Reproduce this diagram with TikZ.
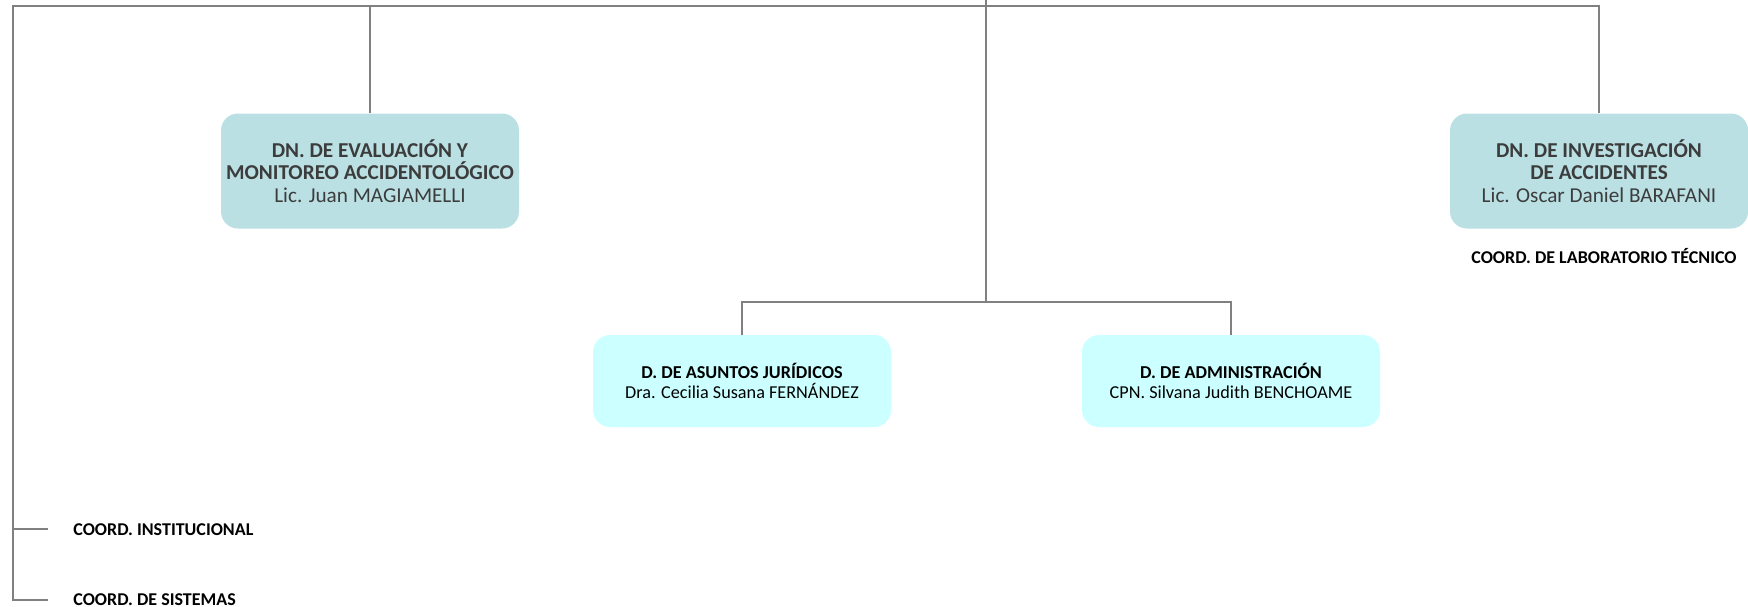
\documentclass[tikz,border=0pt]{standalone}
\usepackage{fontspec}
\setmainfont{Carlito}
\definecolor{linegray}{RGB}{128,128,128}
\definecolor{tealbox}{RGB}{186,224,228}
\definecolor{cyanbox}{RGB}{204,255,255}
\definecolor{dtext}{RGB}{60,60,60}
\begin{document}
\begin{tikzpicture}[x=0.5pt,y=-0.5pt,
 conn/.style={draw=linegray,line width=1pt},
 bigbox/.style={rectangle,rounded corners=8.5pt,fill=tealbox,minimum width=149pt,minimum height=57.5pt,inner sep=0pt,align=center,text=dtext,font=\fontsize{10.6}{11.1}\selectfont},
 smallbox/.style={rectangle,rounded corners=8.5pt,fill=cyanbox,minimum width=149pt,minimum height=46pt,inner sep=0pt,align=center,text=black,font=\fontsize{9.1}{9.8}\selectfont},
 coordlbl/.style={inner sep=0pt,text=black,font=\fontsize{9}{10}\selectfont\bfseries}]
\useasboundingbox (0,0) rectangle (1748,606);

% boxes
\node[bigbox] (evl) at (370,171) {\textbf{DN. DE EVALUACIÓN Y}\\\textbf{MONITOREO ACCIDENTOLÓGICO}\\Lic. Juan MAGIAMELLI};
\node[bigbox] (inv) at (1599,171) {\textbf{DN. DE INVESTIGACIÓN}\\\textbf{DE ACCIDENTES}\\Lic. Oscar Daniel BARAFANI};
\node[smallbox] (jur) at (742,381) {\textbf{D. DE ASUNTOS JURÍDICOS}\\Dra. Cecilia Susana FERNÁNDEZ};
\node[smallbox] (adm) at (1231,381) {\textbf{D. DE ADMINISTRACIÓN}\\CPN. Silvana Judith BENCHOAME};

% labels
\node[coordlbl,anchor=base] (lab) at (1604,263) {COORD. DE LABORATORIO TÉCNICO};
\node[coordlbl,anchor=base west] (ins) at (73,535) {COORD. INSTITUCIONAL};
\node[coordlbl,anchor=base west] (sis) at (73,605) {COORD. DE SISTEMAS};

% coordinates
\coordinate (top) at (986,0);
\coordinate (hub) at (986,302);
\coordinate (jL) at (13,6);
\coordinate (c1) at (13,529);
\coordinate (s1) at (48,529);
\coordinate (c2) at (13,600);
\coordinate (s2) at (48,600);

% connectors
\draw[conn] (s2) -- (c2) -- (jL) -| (inv.north);
\draw[conn] (s1) -- (c1);
\draw[conn] (evl.north) -- (evl.north |- jL);
\draw[conn] (top) -- (hub);
\draw[conn] (jur.north) |- (hub) -| (adm.north);
\end{tikzpicture}
\end{document}
